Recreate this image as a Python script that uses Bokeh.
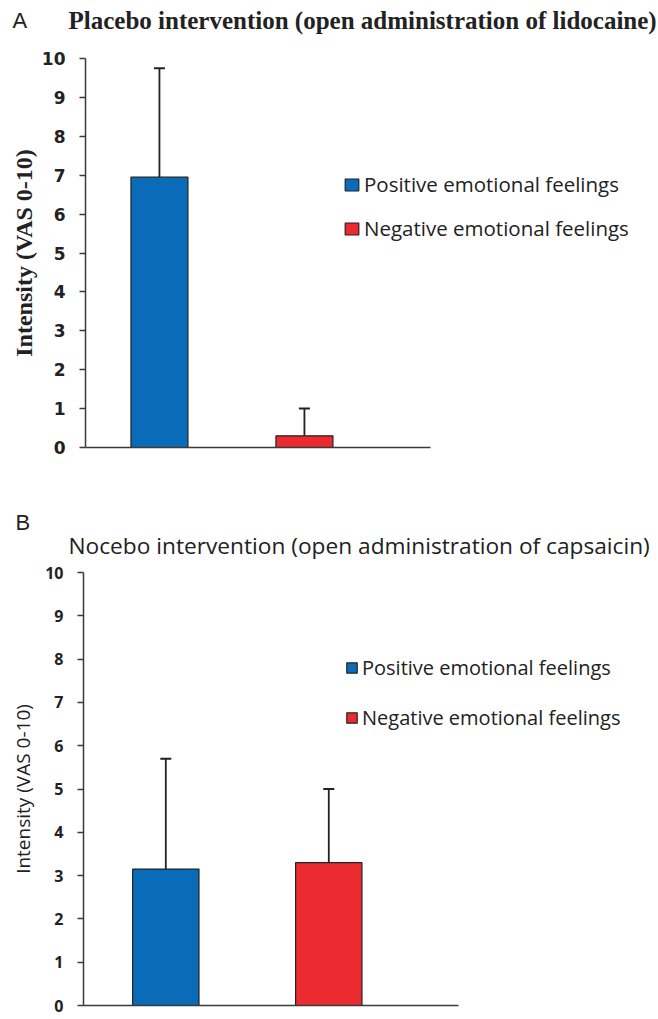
from bokeh.plotting import figure
from bokeh.models import Range1d, Whisker, ColumnDataSource, Legend, LegendItem, TeeHead, FixedTicker
from bokeh.core.properties import value
from bokeh.embed import file_html
from bokeh.resources import INLINE

# ---- data ----
series = ["Positive emotional feelings", "Negative emotional feelings"]
colors = ["#0a6cb9", "#ec2b30"]
positions = [1, 2]
placebo_mean = [6.95, 0.30]
placebo_sd = [2.80, 0.70]
nocebo_mean = [3.15, 3.30]
nocebo_sd = [2.55, 1.70]
y_ticks = list(range(0, 11))

W = 658
INK = "#222222"
AXIS = "#3a3a3a"


def header(height, items):
    h = figure(width=W, height=height, output_backend="svg", toolbar_location=None,
               x_range=Range1d(0, W), y_range=Range1d(height, 0),
               x_axis_type=None, y_axis_type=None, min_border=0)
    h.outline_line_color = None
    h.grid.visible = False
    for (x, y, txt, font, style, size) in items:
        h.text(x=[x], y=[y], text=[txt], text_font=value(font), text_font_style=style,
               text_font_size=size, text_baseline="middle", text_align="left",
               text_color=INK)
    return h


def chart(means, sds, height, left, top, bottom, xr, axis_end, bar_w,
          tick_font, tick_style, tick_size, ylab, ylab_font, ylab_style, ylab_size,
          ylab_standoff, legend_loc, legend_glyph, legend_spacing, legend_size):
    p = figure(width=W, height=height, output_backend="svg", toolbar_location=None,
               x_range=Range1d(*xr), y_range=Range1d(0, 10),
               min_border_left=left, min_border_right=0,
               min_border_top=top, min_border_bottom=bottom)
    p.outline_line_color = None
    p.grid.visible = False

    xa = p.xaxis[0]
    xa.ticker = FixedTicker(ticks=[])
    xa.major_label_text_font_size = "0px"
    xa.major_tick_out = 0
    xa.minor_tick_line_color = None
    xa.bounds = (xr[0], axis_end)
    xa.axis_line_color = AXIS
    xa.axis_line_width = 1.5

    ax = p.yaxis[0]
    ax.ticker = FixedTicker(ticks=y_ticks)
    ax.minor_tick_line_color = None
    ax.major_tick_in = 0
    ax.major_tick_out = 6
    ax.major_label_standoff = 14
    ax.axis_line_color = AXIS
    ax.axis_line_width = 1.5
    ax.major_tick_line_color = AXIS
    ax.major_tick_line_width = 1.5
    ax.major_label_text_font = tick_font
    ax.major_label_text_font_style = tick_style
    ax.major_label_text_font_size = tick_size
    ax.major_label_text_color = INK
    ax.axis_label = ylab
    ax.axis_label_text_font = ylab_font
    ax.axis_label_text_font_style = ylab_style
    ax.axis_label_text_font_size = ylab_size
    ax.axis_label_text_color = INK
    ax.axis_label_standoff = ylab_standoff

    src = ColumnDataSource(dict(x=positions, top=means,
                                upper=[m + s for m, s in zip(means, sds)]))
    items = []
    for i in range(2):
        r = p.vbar(x=[positions[i]], top=[means[i]], width=bar_w, bottom=0,
                   fill_color=colors[i], line_color=INK, line_width=1.2)
        items.append(LegendItem(label=series[i], renderers=[r]))

    p.add_layout(Whisker(source=src, base="x", lower="top", upper="upper",
                         line_color=INK, line_width=1.8,
                         upper_head=TeeHead(size=11, line_color=INK, line_width=2),
                         lower_head=None, level="overlay"))

    leg = Legend(items=items, location=legend_loc, orientation="vertical",
                 glyph_width=legend_glyph[0], glyph_height=legend_glyph[1],
                 label_text_font="Open Sans", label_text_font_size=legend_size,
                 label_text_color=INK, label_standoff=4,
                 spacing=legend_spacing, padding=0, margin=0,
                 border_line_color=None, background_fill_alpha=0,
                 label_height=legend_glyph[1])
    p.add_layout(leg, "center")
    return p


hA = header(45, [(12, 20, "A", "Liberation Sans", "normal", "22px"),
                 (68, 20, "Placebo intervention (open administration of lidocaine)",
                  "Liberation Serif", "bold", "25px")])

pA = chart(placebo_mean, placebo_sd, height=445, left=85, top=13, bottom=43,
           xr=(0.49, 4.442), axis_end=2.869, bar_w=0.393,
           tick_font="DejaVu Sans", tick_style="bold", tick_size="17px",
           ylab="Intensity (VAS 0-10)", ylab_font="Liberation Serif", ylab_style="bold",
           ylab_size="24px", ylab_standoff=2,
           legend_loc=(258, 205), legend_glyph=(17, 15), legend_spacing=16,
           legend_size="20.5px")

hB = header(71, [(15, 32, "B", "Liberation Sans", "normal", "22px"),
                 (68, 55, "Nocebo intervention (open administration of capsaicin)",
                  "Open Sans", "normal", "22.7px")])

pB = chart(nocebo_mean, nocebo_sd, height=458, left=83, top=11, bottom=14,
           xr=(0.495, 4.023), axis_end=2.796, bar_w=0.407,
           tick_font="Open Sans", tick_style="bold", tick_size="16px",
           ylab="Intensity (VAS 0-10)", ylab_font="Open Sans", ylab_style="normal",
           ylab_size="19px", ylab_standoff=6,
           legend_loc=(262, 274), legend_glyph=(13, 13), legend_spacing=23,
           legend_size="20px")

open("out.html", "w").write(file_html([hA, pA, hB, pB], INLINE))
